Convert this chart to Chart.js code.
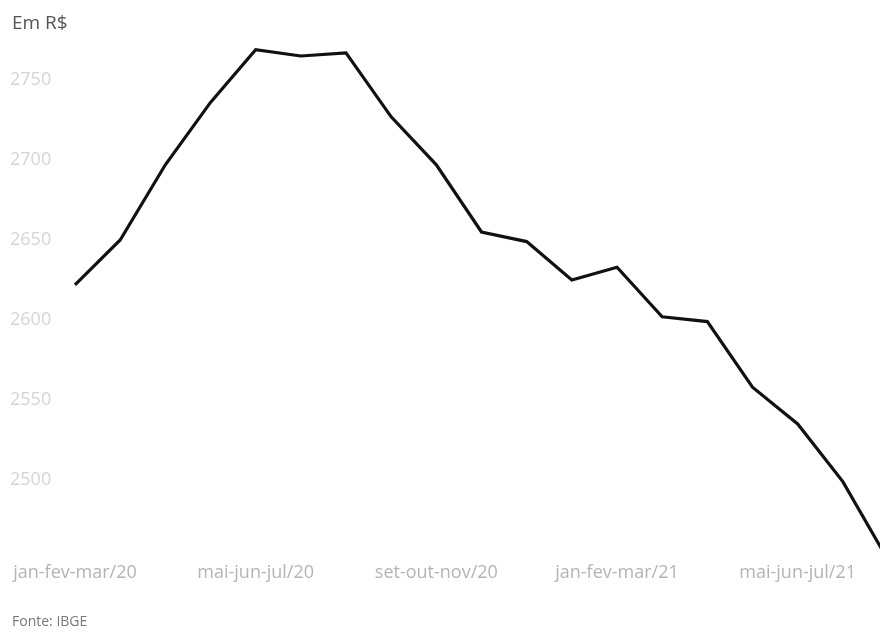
<!DOCTYPE html>
<html>
<head>
<meta charset="utf-8">
<script src="https://cdn.jsdelivr.net/npm/chart.js@4.4.1/dist/chart.umd.min.js"></script>
<style>
  html, body { margin: 0; padding: 0; background: #fff; overflow: hidden; width: 880px; height: 632px; }
  #wrap { position: absolute; left: 0; top: 0; width: 900px; height: 632px; }
  .title { position: absolute; left: 12px; top: 9px; font-family: "Open Sans", sans-serif; font-size: 19px; color: #555; }
  .source { position: absolute; left: 12px; top: 611px; font-family: "Open Sans", sans-serif; font-size: 14px; color: #777; }
</style>
</head>
<body>
<div id="wrap"><canvas id="c" width="900" height="632"></canvas></div>
<div class="title">Em R$</div>
<div class="source">Fonte: IBGE</div>
<script>
const categories = [
  "jan-fev-mar/20", "fev-mar-abr/20", "mar-abr-mai/20", "abr-mai-jun/20",
  "mai-jun-jul/20", "jun-jul-ago/20", "jul-ago-set/20", "ago-set-out/20",
  "set-out-nov/20", "out-nov-dez/20", "nov-dez-jan/21", "dez-jan-fev/21",
  "jan-fev-mar/21", "fev-mar-abr/21", "mar-abr-mai/21", "abr-mai-jun/21",
  "mai-jun-jul/21", "jun-jul-ago/21", "jul-ago-set/21"
];
const rendimento = [
  2622, 2650, 2697, 2736,
  2769, 2765, 2767, 2727,
  2697, 2655, 2649, 2625,
  2633, 2602, 2599, 2558,
  2535, 2499, 2450
];
const yTicks = [2500, 2550, 2600, 2650, 2700, 2750];

new Chart(document.getElementById('c'), {
  type: 'line',
  data: {
    labels: categories,
    datasets: [{
      data: rendimento,
      borderColor: '#111',
      borderWidth: 3.2,
      pointRadius: 0,
      tension: 0,
      clip: false,
      fill: false
    }]
  },
  options: {
    responsive: false,
    animation: false,
    layout: { padding: { top: 40, left: 10, right: 12, bottom: 42 } },
    plugins: { legend: { display: false }, tooltip: { enabled: false } },
    scales: {
      x: {
        offset: false,
        grid: { display: false, drawTicks: false },
        border: { display: false },
        afterFit: (s) => { s.height = 30; },
        ticks: {
          autoSkip: false,
          maxRotation: 0,
          padding: 2,
          color: '#b4b4b4',
          font: { family: 'Open Sans', size: 18 },
          callback: function(v, i) { return i % 4 === 0 ? this.getLabelForValue(v) : null; }
        }
      },
      y: {
        min: 2450,
        max: 2775,
        grid: { display: false, drawTicks: false },
        border: { display: false },
        afterBuildTicks: (axis) => { axis.ticks = yTicks.map(v => ({ value: v })); },
        afterFit: (s) => { s.width = 65; },
        ticks: {
          crossAlign: 'far',
          color: '#d4d4d4',
          font: { family: 'Open Sans', size: 18 },
          callback: (v) => String(v)
        }
      }
    }
  }
});
</script>
</body>
</html>
